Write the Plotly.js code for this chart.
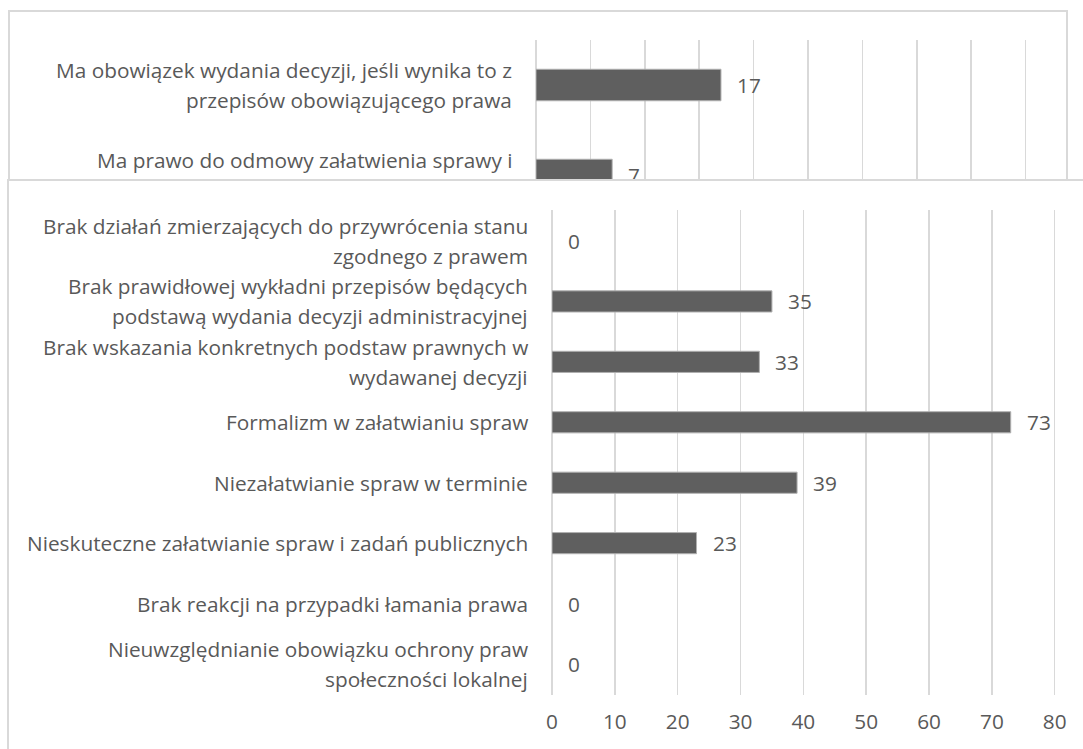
<!DOCTYPE html>
<html>
<head>
<meta charset="utf-8">
<script src="https://cdn.plot.ly/plotly-3.0.1.min.js"></script>
<style>
  html, body { margin: 0; padding: 0; background: #fff; }
  #wrap { position: relative; width: 1083px; height: 749px; overflow: hidden; background: #fff; }
  #topPlot { position: absolute; left: 0; top: 0; width: 1083px; height: 400px; }
  #topBorder { position: absolute; left: 8px; top: 10px; width: 1060px; height: 400px; border: 2px solid #d9d9d9; box-sizing: border-box; pointer-events: none; }
  #botPlot { position: absolute; left: 0; top: 180px; width: 1083px; height: 569px; }
  #botBorder { position: absolute; left: 7px; top: 179px; width: 1200px; height: 700px; border: 2px solid #d9d9d9; box-sizing: border-box; pointer-events: none; }
</style>
</head>
<body>
<div id="wrap">
  <div id="topPlot"></div>
  <div id="topBorder"></div>
  <div id="botPlot"></div>
  <div id="botBorder"></div>
</div>
<script>
// ---- data: upper (partly covered) chart ----
const topCategories = [
  "Ma obowiązek wydania decyzji, jeśli wynika to z<br>przepisów obowiązującego prawa",
  "Ma prawo do odmowy załatwienia sprawy i<br>"
];
const topValues = [17, 7];

// ---- data: lower chart ----
const botCategories = [
  "Brak działań zmierzających do przywrócenia stanu<br>zgodnego z prawem",
  "Brak prawidłowej wykładni przepisów będących<br>podstawą wydania decyzji administracyjnej",
  "Brak wskazania konkretnych podstaw prawnych w<br>wydawanej decyzji",
  "Formalizm w załatwianiu spraw",
  "Niezałatwianie spraw w terminie",
  "Nieskuteczne załatwianie spraw i zadań publicznych",
  "Brak reakcji na przypadki łamania prawa",
  "Nieuwzględnianie obowiązku ochrony praw<br>społeczności lokalnej"
];
const botValues = [0, 35, 33, 73, 39, 23, 0, 0];
const botTicks = [0, 10, 20, 30, 40, 50, 60, 70, 80];

// ---- styling ----
const FONT = "'Open Sans', sans-serif";
const TXT = "#595959";
const FS = 20.8;
const LINE = 30;
const GRID = "#d9d9d9";
const BAR = "#5f5f5f";

function labelAnnotations(cats, vals) {
  const out = [];
  cats.forEach((c, i) => {
    const lines = c.split("<br>");
    const n = lines.length;
    lines.forEach((ln, k) => {
      if (!ln) return;
      out.push({
        x: 0, y: c, xref: "x", yref: "y",
        text: ln, showarrow: false,
        xanchor: "right", yanchor: "middle",
        xshift: -22, yshift: ((n - 1) / 2 - k) * LINE,
        font: { family: FONT, size: FS, color: TXT }
      });
    });
    out.push({
      x: vals[i], y: c, xref: "x", yref: "y",
      text: String(vals[i]), showarrow: false,
      xanchor: "left", yanchor: "middle", xshift: 14,
      font: { family: FONT, size: FS, color: TXT }
    });
  });
  return out;
}

function barTrace(cats, vals) {
  return {
    type: "bar", orientation: "h", y: cats, x: vals, width: 0.35,
    marker: { color: BAR, line: { color: "#b0b0b0", width: vals.map(v => v > 0 ? 1 : 0) } },
    hoverinfo: "skip", cliponaxis: false
  };
}

// upper chart
Plotly.newPlot("topPlot", [barTrace(topCategories, topValues)], {
  width: 1083, height: 400,
  margin: { l: 536, r: 33, t: 40, b: 180, pad: 0 },
  paper_bgcolor: "rgba(0,0,0,0)", plot_bgcolor: "rgba(0,0,0,0)",
  showlegend: false,
  xaxis: { range: [0, 47.24], dtick: 5, showgrid: true, gridcolor: GRID, gridwidth: 1.5,
           zeroline: true, zerolinecolor: GRID, zerolinewidth: 1.5, showticklabels: false, ticks: "", showline: false },
  yaxis: { type: "category", autorange: "reversed", showticklabels: false, showgrid: false, zeroline: false, ticks: "" },
  annotations: labelAnnotations(topCategories, topValues)
}, { staticPlot: true });

// lower chart
Plotly.newPlot("botPlot", [barTrace(botCategories, botValues)], {
  width: 1083, height: 569,
  margin: { l: 552, r: 22, t: 30, b: 54, pad: 0 },
  paper_bgcolor: "#ffffff", plot_bgcolor: "#ffffff",
  showlegend: false,
  font: { family: FONT, size: FS, color: TXT },
  xaxis: { range: [0, 81], tickmode: "array", tickvals: botTicks, ticktext: botTicks.map(String),
           showgrid: true, gridcolor: GRID, gridwidth: 1.5,
           zeroline: true, zerolinecolor: GRID, zerolinewidth: 1.5, ticks: "", showline: false,
           ticklabelstandoff: 12,
           tickfont: { family: FONT, size: FS, color: TXT } },
  yaxis: { type: "category", autorange: "reversed", showticklabels: false, showgrid: false, zeroline: false, ticks: "" },
  annotations: labelAnnotations(botCategories, botValues)
}, { staticPlot: true });
</script>
</body>
</html>
